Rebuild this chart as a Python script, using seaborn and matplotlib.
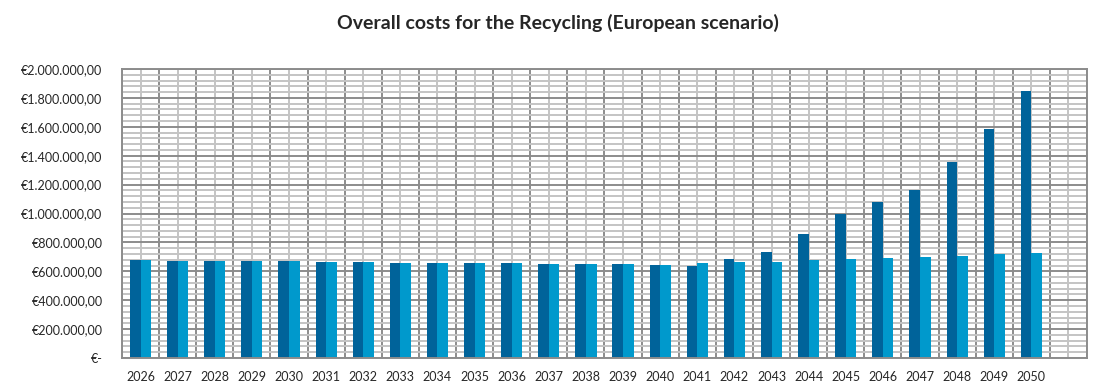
import matplotlib
matplotlib.use("Agg")
import matplotlib.pyplot as plt
import seaborn as sns
import pandas as pd
import numpy as np
from matplotlib.ticker import MultipleLocator, FuncFormatter, FixedLocator

years = [str(y) for y in range(2026, 2051)]
series_a = [678000, 674000, 674000, 671000, 669000, 664000, 662000, 660000, 657000,
            657000, 655000, 653000, 651000, 648000, 644000, 639000, 688000, 736000,
            860000, 999000, 1082000, 1163000, 1358000, 1585000, 1850000]
series_b = [678000, 674000, 674000, 671000, 669000, 664000, 662000, 660000, 657000,
            657000, 655000, 653000, 651000, 648000, 644000, 657000, 663000, 667000,
            676000, 685000, 692000, 697000, 708000, 717000, 729000]
series_names = ["Series 1", "Series 2"]
title = "Overall costs for the Recycling (European scenario)"

df = pd.DataFrame({
    "year": years * 2,
    "cost": series_a + series_b,
    "series": [series_names[0]] * len(years) + [series_names[1]] * len(years),
})

sns.set_theme(style="white")
plt.rcParams["font.family"] = ["Lato", "DejaVu Sans"]

fig = plt.figure(figsize=(10.94, 3.85), dpi=100)
ax = fig.add_axes([0.1115, 0.0701, 0.8821, 0.7507])

sns.barplot(data=df, x="year", y="cost", hue="series", order=years,
            palette=["#00639A", "#0099CC"], width=0.57, saturation=1,
            dodge=True, legend=False, ax=ax, linewidth=0)

ax.set_xlim(-0.5, 25.5)
ax.set_ylim(0, 2000000)

ax.xaxis.set_major_locator(FixedLocator(list(range(26))))
ax.set_xticklabels(years + [""])
ax.xaxis.set_minor_locator(FixedLocator([i - 0.5 for i in range(27)]))
ax.yaxis.set_major_locator(MultipleLocator(200000))
ax.yaxis.set_minor_locator(MultipleLocator(40000))

def euro(v, pos):
    if v == 0:
        return "€-"
    s = f"{v:,.2f}"
    s = s.replace(",", "X").replace(".", ",").replace("X", ".")
    return "€" + s

ax.yaxis.set_major_formatter(FuncFormatter(euro))

ax.set_axisbelow(True)
ax.grid(which="major", axis="y", color="#8c8c8c", linewidth=1.4)
ax.grid(which="minor", axis="y", color="#c4c4c4", linewidth=1.4)
ax.grid(which="minor", axis="x", color="#8c8c8c", linewidth=1.4)
ax.grid(which="major", axis="x", color="#c4c4c4", linewidth=1.4)

for s in ax.spines.values():
    s.set_color("#8c8c8c")
    s.set_linewidth(1.4)

ax.tick_params(axis="both", which="both", length=0)
ax.tick_params(axis="y", labelsize=9, pad=14)
ax.tick_params(axis="x", labelsize=9, pad=9)
ax.set_xlabel("")
ax.set_ylabel("")

fig.text(0.5096, 0.94, title, ha="center", va="center", fontsize=14, fontweight="bold")

fig.savefig("out.png", dpi=100)
